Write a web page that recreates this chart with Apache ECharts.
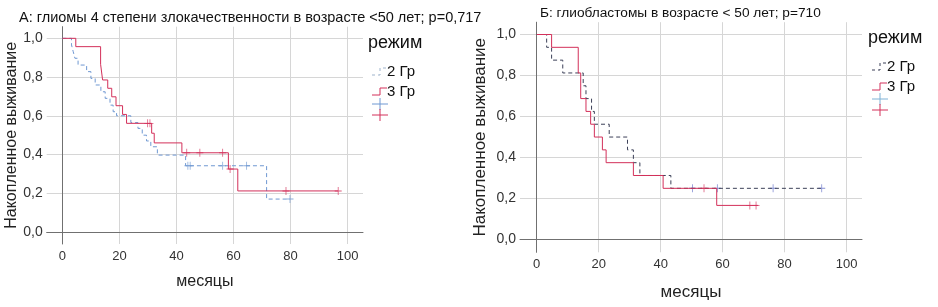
<!DOCTYPE html>
<html>
<head>
<meta charset="utf-8">
<script src="https://cdn.jsdelivr.net/npm/echarts@6/dist/echarts.min.js"></script>
<style>
html, body { margin: 0; padding: 0; background: #fff; }
#chart { width: 938px; height: 307px; }
</style>
</head>
<body>
<div id="chart"></div>
<script>
var titleA = 'А: глиомы 4 степени злокачественности в возрасте <50 лет; р=0,717';
var titleB = 'Б: глиобластомы в возрасте < 50 лет; р=710';
var groups = ['2 Гр', '3 Гр'];
var legendTitle = 'режим';
var yName = 'Накопленное выживание';
var xName = 'месяцы';

// панель А: [месяцы, доля выживших]
var a2Gr = [[0,1],[3.2,0.966],[3.8,0.931],[4.4,0.897],[5.5,0.862],[8.5,0.828],[10,0.793],[11.5,0.759],
  [13.5,0.724],[15,0.69],[16.7,0.655],[17.8,0.621],[19,0.6],[24,0.565],[26.5,0.535],[28,0.5],
  [29.5,0.47],[31,0.44],[33.3,0.397],[43.2,0.342],[71.6,0.17],[79.8,0.17]];
var a3Gr = [[0,1],[4.7,0.957],[13.4,0.866],[14.1,0.785],[15.9,0.742],[17.3,0.698],[18.8,0.652],
  [21.1,0.607],[22.5,0.561],[31.3,0.51],[32.2,0.46],[41.9,0.409],[58.2,0.325],[61.5,0.212],[96.7,0.212]];
var a2Cens = [[44,0.342],[44.8,0.342],[56.2,0.342],[64.6,0.342],[79.8,0.17]];
var a3Cens = [[29.9,0.561],[30.7,0.561],[43.6,0.409],[48.2,0.409],[56.2,0.409],[58.8,0.325],[78.4,0.212],[96.7,0.212]];

// панель Б
var b2Gr = [[0,1],[3.2,0.9375],[4.8,0.875],[8.4,0.8125],[15,0.75],[15.9,0.6875],[17.7,0.625],
  [18.6,0.5625],[23.4,0.5],[29.3,0.4375],[31.2,0.375],[33.3,0.3125],[43.3,0.25],[92,0.25]];
var b3Gr = [[0,1],[4.8,0.9375],[13.4,0.8125],[14.2,0.6875],[15.9,0.625],[17.4,0.5625],[18.6,0.5],
  [21.2,0.4375],[22.4,0.375],[31.2,0.3125],[40.8,0.25],[58.1,0.1667],[71.5,0.1667]];
var b2Cens = [[50.3,0.25],[58.3,0.25],[76.3,0.25],[92,0.25]];
var b3Cens = [[54,0.25],[68.8,0.1667],[70.8,0.1667]];

var red = '#d3305a';
var blueA = '#6f98d2';
var darkB = '#3c4058';
var blueB = '#6470c8';
var crossPath = 'path://M4,0H5V4H9V5H5V9H4V5H0V4H4Z';
var font = 'Liberation Sans, Arial, sans-serif';

function commaLabel(v) {
  return v.toFixed(1).replace('.', ',');
}

function xAxisFor(idx, xmin, xmax, fs, gap) {
  return {
    type: 'value', gridIndex: idx, min: xmin, max: xmax,
    name: xName, nameLocation: 'middle', nameGap: gap,
    nameTextStyle: { fontSize: fs, color: '#222', fontFamily: font },
    axisLine: { show: true, lineStyle: { color: '#707070', width: 1 } },
    axisTick: { show: false },
    axisLabel: { showMinLabel: false, showMaxLabel: false, color: '#333', fontSize: 13, fontFamily: font, margin: 6 },
    splitLine: { show: true, showMinLine: false, showMaxLine: false, lineStyle: { color: '#d6d6d6', width: 1 } }
  };
}

function yAxisFor(idx, fs, gap) {
  return {
    type: 'value', gridIndex: idx, min: -0.062, max: 1.06,
    name: yName, nameLocation: 'middle', nameGap: gap,
    nameTextStyle: { fontSize: fs, color: '#222', fontFamily: font },
    axisLine: { show: true, lineStyle: { color: '#707070', width: 1 } },
    axisTick: { show: false },
    axisLabel: { showMinLabel: false, showMaxLabel: false, color: '#333', fontSize: 14, fontFamily: font, margin: 4,
      formatter: commaLabel },
    splitLine: { show: true, showMinLine: false, showMaxLine: false, lineStyle: { color: '#d6d6d6', width: 1 } }
  };
}

function stepSeries(name, idx, data, color, dashed) {
  return {
    name: name, type: 'line', step: 'end', xAxisIndex: idx, yAxisIndex: idx,
    data: data, showSymbol: false, silent: true,
    lineStyle: { color: color, width: 1, type: dashed ? [4, 3] : 'solid' }
  };
}

function censSeries(idx, data, color) {
  return {
    type: 'scatter', xAxisIndex: idx, yAxisIndex: idx, data: data,
    symbol: crossPath, symbolSize: [7, 8], silent: true,
    itemStyle: { color: color }
  };
}

// легенда рисуется вручную, как в SPSS
function legendGraphics(ox, oy, c2, dash2, cross2) {
  var els = [];
  els.push({ type: 'text', left: ox, top: oy - 11,
    style: { text: legendTitle, font: '18px ' + font, fill: '#111' } });
  var rows = [oy + 27, oy + 47];
  var colors = [c2, red];
  for (var i = 0; i < groups.length; i++) {
    var y = rows[i];
    els.push({ type: 'polyline', shape: { points: [[ox + 4, y + 3], [ox + 12, y + 3], [ox + 12, y - 4], [ox + 19, y - 4]] },
      style: { stroke: colors[i], fill: null, lineWidth: 1, lineDash: i === 0 ? dash2 : null } });
    els.push({ type: 'text', left: ox + 19, top: y - 8,
      style: { text: groups[i], font: '15px ' + font, fill: '#111' } });
  }
  var crossY = [oy + 59, oy + 70];
  var crossC = [cross2, red];
  for (var j = 0; j < 2; j++) {
    els.push({ type: 'polyline', shape: { points: [[ox + 4, crossY[j]], [ox + 20, crossY[j]]] },
      style: { stroke: crossC[j], lineWidth: 1, fill: null } });
    els.push({ type: 'polyline', shape: { points: [[ox + 12, crossY[j] - 6], [ox + 12, crossY[j] + 6]] },
      style: { stroke: crossC[j], lineWidth: 1, fill: null } });
  }
  return els;
}

var chart = echarts.init(document.getElementById('chart'), null, { renderer: 'canvas' });
var option = {
  animation: false,
  backgroundColor: '#fff',
  title: [
    { text: titleA, left: 14, top: 5, textStyle: { fontSize: 14.5, fontWeight: 'normal', color: '#111', fontFamily: font } },
    { text: titleB, left: 535, top: 1, textStyle: { fontSize: 13.7, fontWeight: 'normal', color: '#111', fontFamily: font } }
  ],
  grid: [
    { left: 46.7, top: 26.7, width: 316.3, height: 217.3 },
    { left: 520, top: 22.2, width: 342, height: 230.1 }
  ],
  xAxis: [xAxisFor(0, -5.5, 105.4, 16, 30), xAxisFor(1, -5.4, 105, 17, 32)],
  yAxis: [yAxisFor(0, 16, 26), yAxisFor(1, 17, 31)],
  series: [
    stepSeries(groups[0], 0, a2Gr, blueA, true),
    stepSeries(groups[1], 0, a3Gr, red, false),
    censSeries(0, a2Cens, blueA),
    censSeries(0, a3Cens, red),
    stepSeries(groups[0], 1, b2Gr, darkB, true),
    stepSeries(groups[1], 1, b3Gr, red, false),
    censSeries(1, b2Cens, blueB),
    censSeries(1, b3Cens, red)
  ],
  graphic: legendGraphics(368, 45, '#9fb4cc', [3, 3], blueA).concat(legendGraphics(868, 40, darkB, [3, 3], '#7fb2d6'))
};
chart.setOption(option);
</script>
</body>
</html>
